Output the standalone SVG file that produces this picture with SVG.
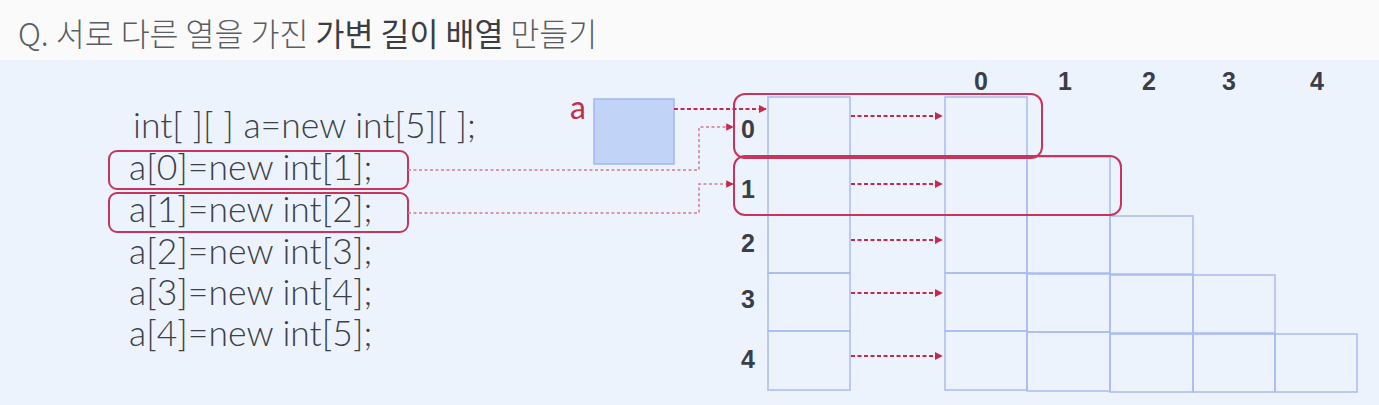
<svg xmlns="http://www.w3.org/2000/svg" width="1379" height="405" viewBox="0 0 1379 405">
<defs>
<style>
.title{font-family:"Noto Sans CJK KR","Noto Sans",sans-serif;font-size:31.5px;fill:#5a5d62;font-weight:300}
.title .b{fill:#3a3d42;font-weight:400}
.code{font-family:Lato,"Liberation Sans",sans-serif;font-size:35.5px;font-weight:300;fill:#3c4148}
.idx{font-family:"Liberation Sans",Arial,sans-serif;font-size:25px;font-weight:bold;fill:#3a3f47;text-anchor:middle}
.cell{fill:none;stroke:#a9bcef;stroke-width:1.5}
.hl{fill:none;stroke:#c8345a;stroke-width:2}
.arr{fill:none;stroke:#c8284c;stroke-width:2;stroke-dasharray:4 2.5}
.dot{fill:none;stroke:#d67b90;stroke-width:1.5;stroke-dasharray:3 2.5}
</style>
<marker id="ah" viewBox="0 0 10 10" refX="9" refY="5" markerWidth="4" markerHeight="4" orient="auto" markerUnits="strokeWidth">
<path d="M0,0 L10,5 L0,10 z" fill="#c8284c"/>
</marker>
<marker id="ah2" viewBox="0 0 10 10" refX="9" refY="5" markerWidth="5" markerHeight="5" orient="auto" markerUnits="strokeWidth">
<path d="M0,0 L10,5 L0,10 z" fill="#c8284c"/>
</marker>
</defs>
<rect x="0" y="0" width="1379" height="405" fill="#edf3fd"/>
<rect x="0" y="0" width="1379" height="60" fill="#fafafa"/>
<text class="title" x="18" y="46">Q. 서로 다른 열을 가진 <tspan class="b">가변 길이 배열</tspan> 만들기</text>

<g id="code">
<text class="code" x="133" y="138">int[ ][ ] a=new int[5][ ];</text>
<text class="code" x="129" y="180">a[0]=new int[1];</text>
<text class="code" x="129" y="222">a[1]=new int[2];</text>
<text class="code" x="129" y="264">a[2]=new int[3];</text>
<text class="code" x="129" y="305">a[3]=new int[4];</text>
<text class="code" x="129" y="346">a[4]=new int[5];</text>
<rect class="hl" x="109" y="151" width="299" height="38" rx="8"/>
<rect class="hl" x="109" y="193" width="299" height="39" rx="8"/>
</g>

<g id="ref-a">
<text x="570" y="119" font-family="Lato,'Liberation Sans',sans-serif" font-size="32" fill="#c0304a">a</text>
<rect x="594" y="99" width="80" height="65" fill="#c2d3f8" stroke="#a0b8ef" stroke-width="1.5"/>
</g>

<g id="rows">
<rect class="cell" x="768" y="97" width="82" height="59"/>
<rect class="cell" x="768" y="156" width="82" height="59"/>
<rect class="cell" x="768" y="215" width="82" height="58"/>
<rect class="cell" x="768" y="273" width="82" height="58"/>
<rect class="cell" x="768" y="331" width="82" height="59"/>
<text class="idx" x="748" y="138">0</text>
<text class="idx" x="748" y="198">1</text>
<text class="idx" x="748" y="252">2</text>
<text class="idx" x="748" y="308">3</text>
<text class="idx" x="748" y="368">4</text>
</g>

<g id="cols">
<text class="idx" x="981" y="90">0</text>
<text class="idx" x="1065" y="90">1</text>
<text class="idx" x="1149" y="90">2</text>
<text class="idx" x="1229" y="90">3</text>
<text class="idx" x="1317" y="90">4</text>
</g>

<g id="row0"><rect class="cell" x="945" y="97" width="82" height="59"/></g>
<g id="row1">
<rect class="cell" x="945" y="157" width="82" height="58"/>
<rect class="cell" x="1027" y="157" width="83" height="58"/>
</g>
<g id="row2">
<rect class="cell" x="945" y="215" width="82" height="58"/>
<rect class="cell" x="1027" y="215" width="83" height="58"/>
<rect class="cell" x="1110" y="216" width="83" height="58"/>
</g>
<g id="row3">
<rect class="cell" x="945" y="273" width="82" height="58"/>
<rect class="cell" x="1027" y="274" width="83" height="58"/>
<rect class="cell" x="1110" y="275" width="83" height="58"/>
<rect class="cell" x="1193" y="275" width="82" height="58"/>
</g>
<g id="row4">
<rect class="cell" x="945" y="331" width="82" height="59"/>
<rect class="cell" x="1027" y="332" width="83" height="59"/>
<rect class="cell" x="1110" y="334" width="83" height="58"/>
<rect class="cell" x="1193" y="334" width="82" height="58"/>
<rect class="cell" x="1275" y="334" width="82" height="58"/>
</g>

<g id="highlights">
<rect class="hl" x="734" y="94" width="308" height="64" rx="11"/>
<rect class="hl" x="734" y="156" width="387" height="59" rx="11"/>
</g>

<g id="connectors">
<line class="arr" x1="674" y1="109" x2="766" y2="109" marker-end="url(#ah)"/>
<line class="arr" x1="851" y1="116" x2="942" y2="116" marker-end="url(#ah)"/>
<line class="arr" x1="851" y1="184" x2="942" y2="184" marker-end="url(#ah)"/>
<line class="arr" x1="851" y1="240" x2="942" y2="240" marker-end="url(#ah)"/>
<line class="arr" x1="851" y1="293" x2="942" y2="293" marker-end="url(#ah)"/>
<line class="arr" x1="851" y1="356" x2="942" y2="356" marker-end="url(#ah)"/>
<polyline class="dot" points="408,170 699,170 699,127 733,127" marker-end="url(#ah2)"/>
<polyline class="dot" points="408,213 699,213 699,184 733,184" marker-end="url(#ah2)"/>
</g>
</svg>
